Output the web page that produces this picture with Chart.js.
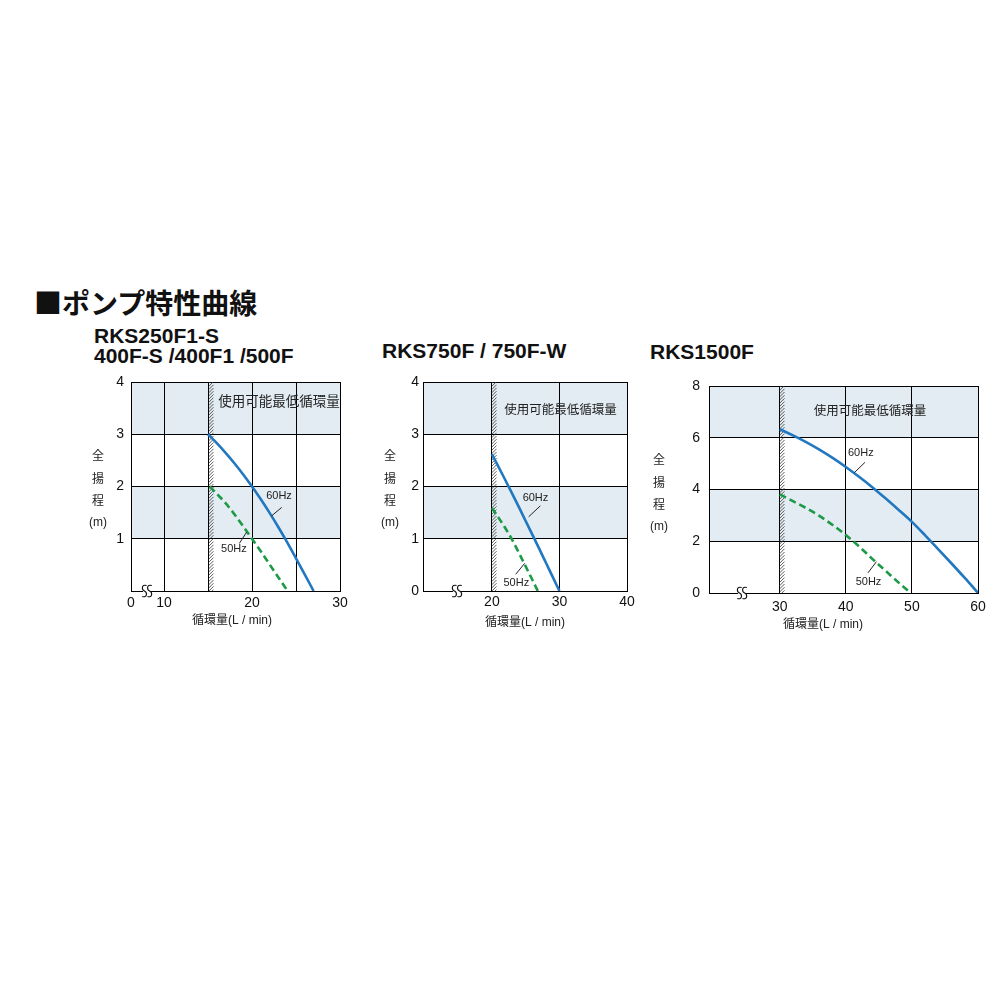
<!DOCTYPE html>
<html>
<head>
<meta charset="utf-8">
<script src="https://cdn.jsdelivr.net/npm/chart.js@4.4.0/dist/chart.umd.min.js"></script>
<style>
  body { margin: 0; background: #fff; font-family: "Liberation Sans", "Noto Sans CJK JP", sans-serif; }
  .ttl { position: absolute; font-weight: bold; color: #111; white-space: nowrap; }
  .box { position: absolute; }
</style>
</head>
<body>
<div class="ttl" style="left:34px; top:284px; font-size:28px; line-height:36px; font-family:'Noto Sans CJK JP';">■ポンプ特性曲線</div>
<div class="ttl" style="left:94px; top:326px; font-size:21px; line-height:20px;">RKS250F1-S<br>400F-S /400F1 /500F</div>
<div class="ttl" style="left:382px; top:341px; font-size:21px; line-height:20px;">RKS750F / 750F-W</div>
<div class="ttl" style="left:650px; top:342px; font-size:21px; line-height:20px;">RKS1500F</div>

<div class="box" style="left:80px; top:372px;"><canvas id="c1" width="270" height="260"></canvas></div>
<div class="box" style="left:370px; top:372px;"><canvas id="c2" width="270" height="260"></canvas></div>
<div class="box" style="left:640px; top:376px;"><canvas id="c3" width="355" height="260"></canvas></div>

<script>
// RKS250F1-S / 400F-S / 400F1 / 500F
const xTicks1 = [6.25, 10, 15, 20, 25, 30];
const xLabels1 = ['0', '10', '', '20', '', '30'];
const yTicks1 = [0, 1, 2, 3, 4];
const yLabels1 = ['', '1', '2', '3', '4'];
const flow60_1 = [15, 16, 17, 18, 19, 20, 21, 22, 23, 24, 25, 26, 27];
const head60_1 = [3.0, 2.83, 2.645, 2.445, 2.23, 2.0, 1.755, 1.495, 1.22, 0.93, 0.625, 0.315, 0];
const flow50_1 = [15.2, 16, 17, 18, 19, 20, 21, 22, 23, 24.05];
const head50_1 = [2.0, 1.86, 1.68, 1.47, 1.24, 1.0, 0.76, 0.51, 0.26, 0];
const bands1 = [[1, 2], [3, 4]];
const minFlow1 = 15;

// RKS750F / 750F-W
const xTicks2 = [20, 30, 40];
const xLabels2 = ['20', '30', '40'];
const yTicks2 = [0, 1, 2, 3, 4];
const yLabels2 = ['0', '1', '2', '3', '4'];
const flow60_2 = [20, 21, 22, 23, 24, 25, 26, 27, 28, 29, 30];
const head60_2 = [2.62, 2.37, 2.12, 1.865, 1.605, 1.34, 1.075, 0.81, 0.54, 0.27, 0];
const flow50_2 = [20, 21, 22, 23, 24, 25, 26, 26.8];
const head50_2 = [1.59, 1.4, 1.2, 0.98, 0.73, 0.47, 0.21, 0];
const bands2 = [[1, 2], [3, 4]];
const minFlow2 = 20;

// RKS1500F
const xTicks3 = [30, 40, 50, 60];
const xLabels3 = ['30', '40', '50', '60'];
const yTicks3 = [0, 2, 4, 6, 8];
const yLabels3 = ['0', '2', '4', '6', '8'];
const flow60_3 = [30, 32, 34, 36, 38, 40, 42, 44, 46, 48, 50, 52, 54, 56, 58, 60];
const head60_3 = [6.33, 6.09, 5.83, 5.54, 5.22, 4.87, 4.49, 4.09, 3.66, 3.21, 2.75, 2.23, 1.69, 1.14, 0.58, 0];
const flow50_3 = [30, 32, 34, 36, 38, 40, 42, 44, 46, 48, 49.8];
const head50_3 = [3.81, 3.55, 3.28, 2.98, 2.63, 2.24, 1.8, 1.32, 0.86, 0.4, 0];
const bands3 = [[2, 4], [6, 8]];
const minFlow3 = 30;

const noteText = '使用可能最低循環量';
const yTitle = ['全', '揚', '程', '(m)'];
const xTitle = '循環量(L / min)';
const FONT = '"Liberation Sans", "Noto Sans CJK JP", sans-serif';

Chart.defaults.font.family = FONT;

const decor = {
  id: 'decor',
  beforeDraw(chart, args, o) {
    const { ctx, chartArea: a, scales: { y } } = chart;
    ctx.save();
    ctx.fillStyle = '#e2ecf2';
    o.bands.forEach(b => {
      const top = y.getPixelForValue(b[1]);
      const bot = y.getPixelForValue(b[0]);
      ctx.fillRect(a.left, top, a.right - a.left, bot - top);
    });
    ctx.restore();
  },
  beforeDatasetsDraw(chart, args, o) {
    const { ctx, chartArea: a, scales: { x } } = chart;
    const hx = Math.round(x.getPixelForValue(o.minFlow) - 0.5) + 0.5;
    const w = 5;
    ctx.save();
    ctx.beginPath();
    ctx.rect(hx, a.top, w + 0.5, a.bottom - a.top);
    ctx.clip();
    ctx.strokeStyle = '#333';
    ctx.lineWidth = 0.8;
    for (let yy = a.top - 10; yy < a.bottom + 10; yy += 3.2) {
      ctx.beginPath();
      ctx.moveTo(hx, yy + w);
      ctx.lineTo(hx + w, yy);
      ctx.stroke();
    }
    ctx.restore();
  },
  afterDatasetsDraw(chart, args, o) {
    const { ctx, chartArea: a, scales: { x, y } } = chart;
    ctx.save();
    ctx.fillStyle = '#222';
    ctx.textAlign = 'center';
    ctx.textBaseline = 'middle';

    // note
    ctx.font = o.noteSize + 'px ' + FONT;
    ctx.fillText(noteText, x.getPixelForValue(o.note[0]), y.getPixelForValue(o.note[1]));

    // Hz labels and leaders
    ctx.font = '11px ' + FONT;
    o.labels.forEach(l => {
      ctx.fillText(l.text, x.getPixelForValue(l.at[0]), y.getPixelForValue(l.at[1]));
      ctx.strokeStyle = '#222';
      ctx.lineWidth = 1;
      ctx.beginPath();
      ctx.moveTo(x.getPixelForValue(l.lead[0]), y.getPixelForValue(l.lead[1]));
      ctx.lineTo(x.getPixelForValue(l.lead[2]), y.getPixelForValue(l.lead[3]));
      ctx.stroke();
    });

    // axis break mark
    const bx = x.getPixelForValue(o.breakAt);
    const by = a.bottom;
    ctx.fillStyle = '#fff';
    ctx.fillRect(bx - 4, by - 2, 8, 4);
    ctx.strokeStyle = '#111';
    ctx.lineWidth = 1.1;
    [-2.6, 2.6].forEach(d => {
      const cx = bx + d;
      ctx.beginPath();
      ctx.moveTo(cx + 2.2, by - 5.5);
      ctx.bezierCurveTo(cx - 3, by - 7, cx - 3, by - 1.5, cx, by);
      ctx.bezierCurveTo(cx + 3, by + 1.5, cx + 3, by + 7, cx - 2.2, by + 5.5);
      ctx.stroke();
    });

    // axis titles
    ctx.fillStyle = '#222';
    ctx.font = '12px ' + FONT;
    const tx = a.left - o.yTitleDX;
    [75, 98, 120, 141].forEach((dy, i) => ctx.fillText(yTitle[i], tx, a.top + dy));
    ctx.fillText(xTitle, a.left + o.xTitleDX, a.bottom + o.xTitleDY);
    ctx.restore();
  }
};

function makeChart(id, c) {
  return new Chart(document.getElementById(id), {
    type: 'line',
    data: {
      datasets: [
        {
          label: '60Hz',
          data: c.flow60.map((v, i) => ({ x: v, y: c.head60[i] })),
          borderColor: '#2178c0',
          borderWidth: 2.6,
          pointRadius: 0,
          cubicInterpolationMode: 'monotone',
          fill: false
        },
        {
          label: '50Hz',
          data: c.flow50.map((v, i) => ({ x: v, y: c.head50[i] })),
          borderColor: '#1d9a48',
          borderWidth: 2.6,
          borderDash: [7, 4],
          pointRadius: 0,
          cubicInterpolationMode: 'monotone',
          fill: false
        }
      ]
    },
    options: {
      responsive: false,
      animation: false,
      layout: { padding: { left: 0, right: c.padRight, top: 10, bottom: 0 } },
      plugins: {
        legend: { display: false },
        tooltip: { enabled: false },
        decor: c.decor
      },
      scales: {
        // the gap between axis and labels is an invisible tick mark, so it
        // does not add to the scale's edge padding
        x: {
          type: 'linear',
          min: c.xMin,
          max: c.xMax,
          afterBuildTicks: s => { s.ticks = c.xTicks.map(v => ({ value: v })); },
          afterFit: s => { s.height = c.xH; },
          grid: { color: '#000', lineWidth: 1, drawTicks: true, tickLength: c.xPad, tickColor: 'rgba(0,0,0,0)' },
          border: { color: '#000', width: 1 },
          ticks: {
            color: '#111', font: { size: 14 }, padding: 0,
            autoSkip: false, maxRotation: 0,
            callback: (v, i) => c.xLabels[i]
          }
        },
        y: {
          min: c.yTicks[0],
          max: c.yTicks[c.yTicks.length - 1],
          afterBuildTicks: s => { s.ticks = c.yTicks.map(v => ({ value: v })); },
          afterFit: s => { s.width = c.yW; },
          grid: { color: '#000', lineWidth: 1, drawTicks: true, tickLength: c.yPad, tickColor: 'rgba(0,0,0,0)' },
          border: { color: '#000', width: 1 },
          ticks: {
            color: '#111', font: { size: 14 }, padding: 0,
            callback: (v, i) => c.yLabels[i]
          }
        }
      }
    },
    plugins: [decor]
  });
}

makeChart('c1', {
  flow60: flow60_1, head60: head60_1, flow50: flow50_1, head50: head50_1,
  xTicks: xTicks1, xLabels: xLabels1, yTicks: yTicks1, yLabels: yLabels1,
  xMin: 6.25, xMax: 30, padRight: 10, xH: 41, yW: 51, xPad: 4, yPad: 7,
  decor: {
    bands: bands1, minFlow: minFlow1, note: [23.07, 3.62], noteSize: 13.5,
    labels: [
      { text: '60Hz', at: [23.07, 1.82], lead: [22.24, 1.44, 23.38, 1.6] },
      { text: '50Hz', at: [17.95, 0.8], lead: [18.56, 0.91, 19.4, 1.13] }
    ],
    breakAt: 8.07, yTitleDX: 33, xTitleDX: 101, xTitleDY: 30
  }
});

makeChart('c2', {
  flow60: flow60_2, head60: head60_2, flow50: flow50_2, head50: head50_2,
  xTicks: xTicks2, xLabels: xLabels2, yTicks: yTicks2, yLabels: yLabels2,
  xMin: 9.8, xMax: 40, padRight: 13, xH: 41, yW: 53, xPad: 3, yPad: 4,
  decor: {
    bands: bands2, minFlow: minFlow2, note: [30.16, 3.46], noteSize: 12.5,
    labels: [
      { text: '60Hz', at: [26.45, 1.79], lead: [25.44, 1.42, 27.17, 1.63] },
      { text: '50Hz', at: [23.61, 0.15], lead: [23.52, 0.32, 24.86, 0.53] }
    ],
    breakAt: 14.83, yTitleDX: 33, xTitleDX: 102, xTitleDY: 32
  }
});

makeChart('c3', {
  flow60: flow60_3, head60: head60_3, flow50: flow50_3, head50: head50_3,
  xTicks: xTicks3, xLabels: xLabels3, yTicks: yTicks3, yLabels: yLabels3,
  xMin: 19.3, xMax: 60, padRight: 17, xH: 43, yW: 69, xPad: 6, yPad: 9,
  decor: {
    bands: bands3, minFlow: minFlow3, note: [43.66, 7.03], noteSize: 12.5,
    labels: [
      { text: '60Hz', at: [42.27, 5.4], lead: [41.28, 4.65, 42.9, 5.05] },
      { text: '50Hz', at: [43.43, 0.41], lead: [43.36, 0.78, 44.63, 1.21] }
    ],
    breakAt: 24.3, yTitleDX: 50, xTitleDX: 114, xTitleDY: 32
  }
});
</script>
</body>
</html>
